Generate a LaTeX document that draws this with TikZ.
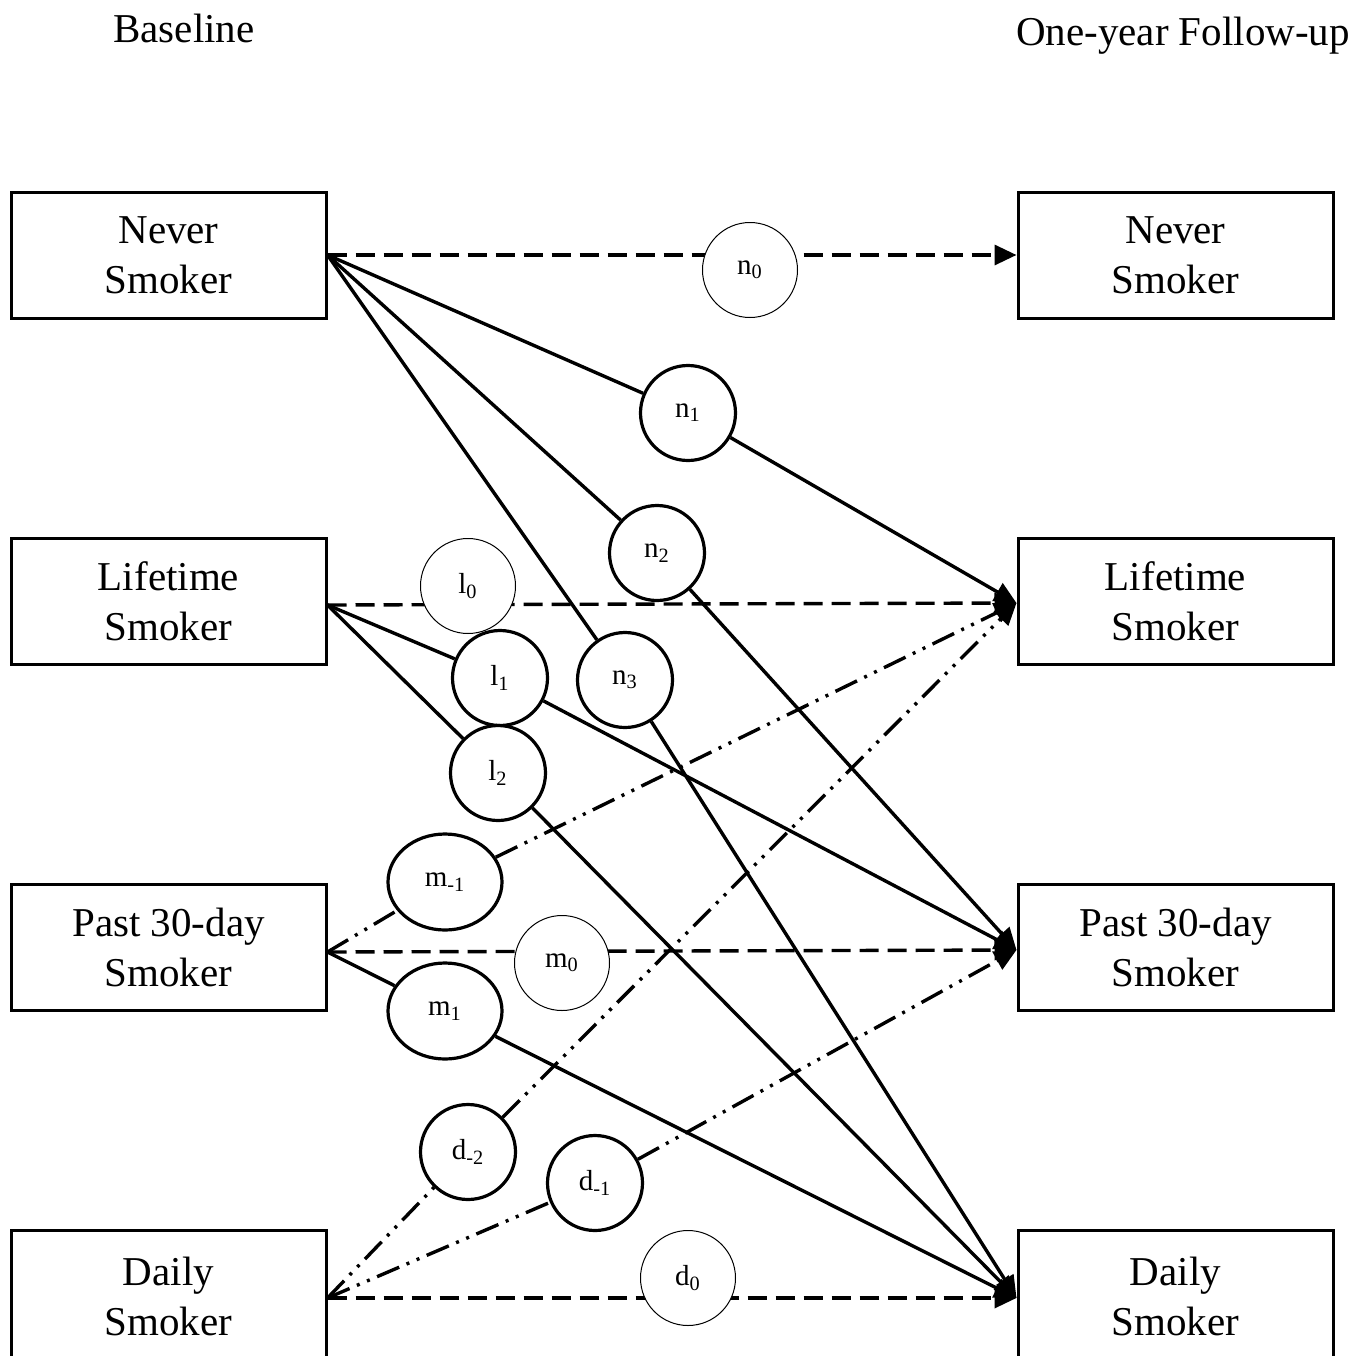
\documentclass[tikz,border=0pt]{standalone}
\usepackage{fontspec}
\setmainfont{Liberation Serif}
\usetikzlibrary{arrows.meta,shapes.geometric}
\begin{document}
\begin{tikzpicture}[x=0.5pt,y=-0.5pt,
 box/.style={draw,line width=1.5pt,minimum width=157.5pt,minimum height=63pt,inner sep=0pt,align=center,font=\fontsize{20.5}{25}\selectfont},
 lowbox/.style={box,minimum height=66pt},
 ttl/.style={anchor=base,inner sep=0pt,font=\fontsize{20.5}{25}\selectfont},
 pc/.style={circle,draw,fill=white,line width=1.6pt,minimum size=47.5pt,inner sep=0pt,font=\fontsize{14.5}{16}\selectfont},
 pe/.style={ellipse,draw,fill=white,line width=1.6pt,minimum width=57pt,minimum height=48pt,inner sep=0pt,font=\fontsize{14.5}{16}\selectfont},
 tc/.style={pc,line width=0.5pt},
 solidln/.style={line width=1.7pt},
 dashln/.style={line width=1.7pt,dash pattern=on 9.5pt off 4.5pt},
 ddln/.style={line width=1.7pt,dash pattern=on 12pt off 4pt on 1.5pt off 4pt on 1.5pt off 4pt},
 arr/.style={-{Triangle[length=11pt,width=10pt]}},
]
\useasboundingbox (0,0) rectangle (1371,1355);

% titles
\node[ttl] (tb) at (184,42) {Baseline};
\node[ttl] (tf) at (1183,45) {One-year Follow-up};

% boxes
\node[box] (NL) at (168.5,255) {Never\\Smoker};
\node[box] (LL) at (168.5,601.5) {Lifetime\\Smoker};
\node[box] (PL) at (168.5,947) {Past 30-day\\Smoker};
\node[lowbox] (DL) at (168.5,1296) {Daily\\Smoker};
\node[box] (NR) at (1175.5,255) {Never\\Smoker};
\node[box] (LR) at (1175.5,601.5) {Lifetime\\Smoker};
\node[box] (PR) at (1175.5,947) {Past 30-day\\Smoker};
\node[lowbox] (DR) at (1175.5,1296) {Daily\\Smoker};

% thick parameter circles
\node[pc] (n1) at (688,413) {n\textsubscript{1}};
\node[pc] (n2) at (657,553) {n\textsubscript{2}};
\node[pc] (n3) at (625,680) {n\textsubscript{3}};
\node[pc] (l1) at (500,678) {l\textsubscript{1}};
\node[pc] (l2) at (498,773) {l\textsubscript{2}};
\node[pe] (mm1) at (445,882) {m\textsubscript{-1}};
\node[pe] (m1) at (445,1011) {m\textsubscript{1}};
\node[pc] (dm2) at (468,1152) {d\textsubscript{-2}};
\node[pc] (dm1) at (595,1183) {d\textsubscript{-1}};

% coordinates on box edges
\coordinate (NLe) at (NL.east);
\coordinate (LLe) at ([yshift=-1.75pt]LL.east);
\coordinate (PLe) at ([yshift=-2.5pt]PL.east);
\coordinate (DLe) at ([yshift=-1pt]DL.east);
\coordinate (NRw) at (NR.west);
\coordinate (LRw) at ([yshift=-0.75pt]LR.west);
\coordinate (PRw) at ([yshift=-1.5pt]PR.west);
\coordinate (DRw) at ([yshift=-1pt]DR.west);

% solid transitions
\draw[solidln] (NLe) -- (n1);
\draw[solidln,arr] (n1) -- (LRw);
\draw[solidln] (NLe) -- (n2);
\draw[solidln,arr] (n2) -- (PRw);
\draw[solidln] (NLe) -- (n3);
\draw[solidln,arr] (n3) -- (DRw);
\draw[solidln] (LLe) -- (l1);
\draw[solidln,arr] (l1) -- (PRw);
\draw[solidln] (LLe) -- (l2);
\draw[solidln,arr] (l2) -- (DRw);
\draw[solidln] (PLe) -- (m1);
\draw[solidln,arr] (m1) -- (DRw);

% dash-dot-dot transitions
\draw[ddln] (PLe) -- (mm1);
\draw[ddln,arr] (mm1) -- (LRw);
\draw[ddln] (DLe) -- (dm2);
\draw[ddln,arr] (dm2) -- (LRw);
\draw[ddln] (DLe) -- (dm1);
\draw[ddln,arr] (dm1) -- (PRw);

% dashed stay transitions
\draw[dashln,arr] (NLe) -- (NRw);
\draw[dashln,arr] (LLe) -- (LRw);
\draw[dashln,arr] (PLe) -- (PRw);
\draw[dashln,arr] (DLe) -- (DRw);

% thin parameter circles
\node[tc] (n0) at (750,270) {n\textsubscript{0}};
\node[tc] (l0) at (468,586) {l\textsubscript{0}};
\node[tc] (m0) at (562,963) {m\textsubscript{0}};
\node[tc] (d0) at (688,1278) {d\textsubscript{0}};
\end{tikzpicture}
\end{document}
